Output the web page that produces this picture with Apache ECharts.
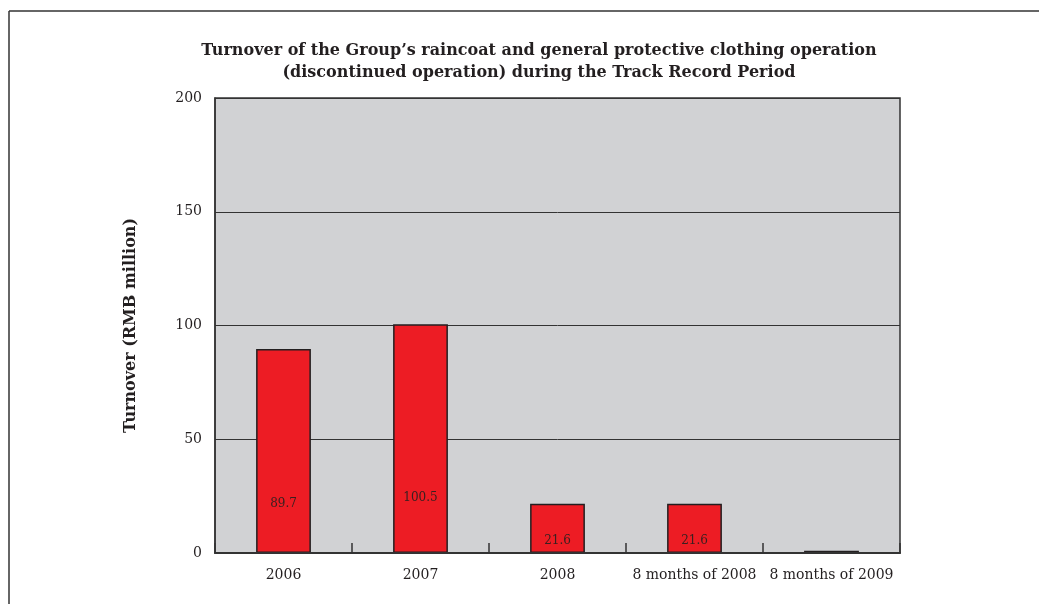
<!DOCTYPE html>
<html><head><meta charset="utf-8">
<script src="https://cdn.jsdelivr.net/npm/echarts@6/dist/echarts.min.js"></script>
<style>html,body{margin:0;padding:0;background:#fff}#c{width:1039px;height:604px}</style>
</head><body><div id="c"></div>
<script>
const categories = ['2006', '2007', '2008', '8 months of 2008', '8 months of 2009'];
const turnover = [89.7, 100.5, 21.6, 21.6, 1.0];
const valueLabels = ['89.7', '100.5', '21.6', '21.6', ''];
const yTicks = { min: 0, max: 200, interval: 50 };

const FONT = '"DejaVu Serif", "Liberation Serif", serif';
const chart = echarts.init(document.getElementById('c'));
chart.setOption({
  animation: false,
  backgroundColor: '#fff',
  title: {
    text: 'Turnover of the Group\u2019s raincoat and general protective clothing operation\n(discontinued operation) during the Track Record Period',
    left: 534, top: 35, textAlign: 'center',
    textStyle: { fontFamily: FONT, fontWeight: 'bold', fontSize: 16, lineHeight: 22, color: '#231F20' }
  },
  graphic: [
    { type: 'line', shape: { x1: 9, y1: 11, x2: 9, y2: 604 }, style: { stroke: '#333', lineWidth: 1.5 } },
    { type: 'line', shape: { x1: 9, y1: 11, x2: 1039, y2: 11 }, style: { stroke: '#333', lineWidth: 1.5 } }
  ],
  grid: {
    left: 215, right: 139, top: 98, bottom: 51,
    show: true, backgroundColor: '#D1D2D4', borderColor: '#333', borderWidth: 1.5
  },
  xAxis: {
    type: 'category', data: categories, boundaryGap: true, z: 10,
    axisLine: { show: true, lineStyle: { color: '#333', width: 2 } },
    axisTick: { show: true, alignWithLabel: false, inside: true, interval: 0, length: 10, lineStyle: { color: '#333', width: 1.5 } },
    axisLabel: { interval: 0, fontFamily: FONT, fontSize: 14, color: '#231F20', margin: 15 }
  },
  yAxis: {
    type: 'value', min: yTicks.min, max: yTicks.max, interval: yTicks.interval,
    name: 'Turnover (RMB million)', nameLocation: 'middle', nameGap: 76, nameRotate: 90,
    nameTextStyle: { fontFamily: FONT, fontWeight: 'bold', fontSize: 16, color: '#231F20' },
    axisLine: { show: true, lineStyle: { color: '#333', width: 1.5 } },
    axisTick: { show: false },
    axisLabel: { fontFamily: FONT, fontSize: 14, color: '#231F20', margin: 13 },
    splitLine: { lineStyle: { color: '#333', width: 1 } }
  },
  series: [{
    type: 'bar', data: turnover, barWidth: '40%',
    itemStyle: { color: '#ED1C24', borderColor: '#231F20', borderWidth: 1.5 },
    label: {
      show: true, position: ['50%', '76%'], align: 'center', verticalAlign: 'middle',
      fontFamily: FONT, fontSize: 12, color: '#3a2020',
      formatter: p => valueLabels[p.dataIndex]
    }
  }]
});
</script></body></html>
